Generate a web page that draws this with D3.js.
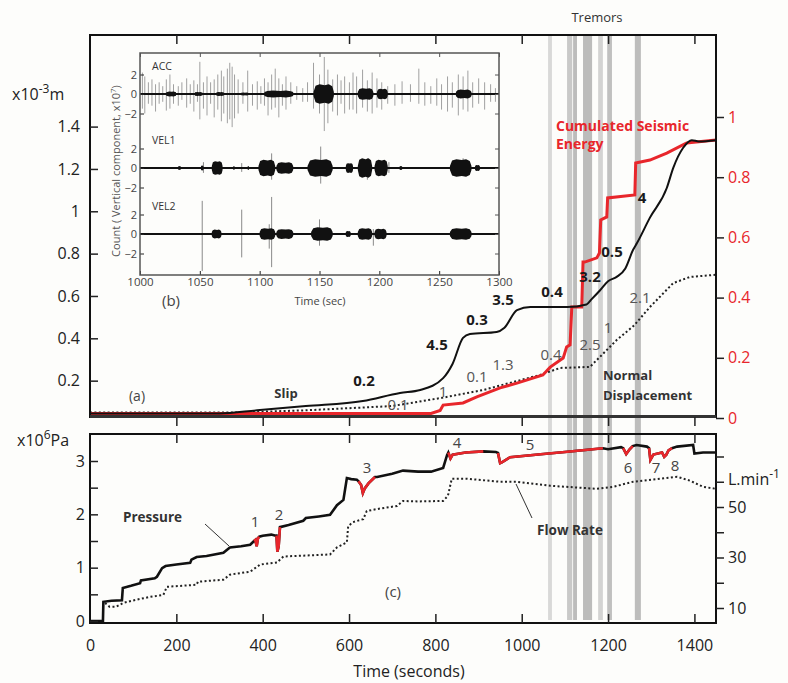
<!DOCTYPE html>
<html><head><meta charset="utf-8">
<script src="https://cdn.jsdelivr.net/npm/d3@7"></script>
<style>body{margin:0;background:#fdfdfb} text{font-family:"Open Sans",sans-serif}</style>
</head><body><svg id="c" width="788" height="683"></svg>
<script>
// ---------------- DATA ----------------
// (a) Slip (x10^-3 m), left axis
const slipT = [0,300,387,500,632,718,765,818,840,864,880,942,960,989,1020,1105,1150,1162,1181,1200,1220,1240,1258,1267,1297,1336,1351,1374,1394,1410,1450];
const slipV = [0.045,0.045,0.06,0.08,0.104,0.142,0.156,0.212,0.28,0.402,0.42,0.43,0.45,0.533,0.548,0.548,0.56,0.585,0.626,0.67,0.69,0.73,0.818,0.85,0.97,1.11,1.205,1.30,1.336,1.33,1.336];
// Normal displacement (x10^-3 m), left axis
const normT = [0,350,500,700,818,911,1042,1089,1158,1181,1220,1260,1297,1351,1390,1450];
const normV = [0.05,0.05,0.06,0.08,0.12,0.156,0.227,0.26,0.265,0.312,0.392,0.46,0.548,0.661,0.69,0.70];
// Cumulated seismic energy (normalised), right axis
const energyT = [0,790,811,818,864,896,950,989,1049,1066,1096,1104,1112,1116,1139,1142,1146,1174,1180,1183,1197,1199,1262,1264,1297,1336,1382,1450];
const energyV = [0.015,0.015,0.025,0.043,0.05,0.07,0.10,0.116,0.143,0.169,0.199,0.236,0.243,0.369,0.369,0.518,0.518,0.532,0.548,0.658,0.668,0.731,0.741,0.847,0.857,0.880,0.914,0.924];
const slipTicks = [0.2,0.4,0.6,0.8,1,1.2,1.4];
const energyTicks = [0,0.2,0.4,0.6,0.8,1];

// (c) Pressure (x10^6 Pa)
const pressT = [0,30,31,50,74,76,95,116,118,150,155,167,175,200,232,235,247,270,309,324,350,371,380,383,386,389,392,400,420,430,432,434,437,440,460,494,500,530,556,572,587,595,605,618,622,628,632,636,645,660,665,700,725,760,790,818,827,830,835,840,870,911,940,945,950,955,973,1050,1100,1188,1200,1230,1235,1242,1250,1257,1266,1290,1295,1298,1305,1325,1330,1335,1340,1348,1360,1397,1400,1420,1450];
const pressV = [0,0,0.36,0.38,0.39,0.62,0.66,0.71,0.76,0.8,0.83,0.99,1.03,1.06,1.09,1.15,1.2,1.22,1.28,1.38,1.4,1.43,1.5,1.52,1.40,1.55,1.58,1.6,1.62,1.6,1.6,1.30,1.40,1.76,1.8,1.88,1.93,1.96,1.99,2.17,2.27,2.68,2.66,2.65,2.62,2.55,2.40,2.48,2.58,2.7,2.70,2.76,2.82,2.80,2.80,2.87,3.11,3.16,3.05,3.12,3.16,3.18,3.17,3.15,2.96,2.98,3.07,3.13,3.17,3.24,3.22,3.26,3.24,3.13,3.22,3.28,3.30,3.27,3.24,3.02,3.12,3.16,3.08,3.12,3.20,3.24,3.27,3.30,3.14,3.16,3.16];
// red (seismic) intervals on the pressure curve [start,end] seconds
const redStart = [380,432,622,830,945,1235,1295];
const redEnd   = [392,440,660,911,1188,1257,1348];
const redNumbers = ["1","2","3","4","5","6","7","8"];
// Flow rate (L/min), right axis
const flowT = [35,45,60,77,100,139,170,178,247,250,309,324,371,394,433,448,556,572,595,598,609,633,641,665,711,725,760,818,829,838,873,950,989,1066,1174,1212,1258,1320,1360,1390,1420,1450];
const flowV = [12,10.5,10.5,12,13,14.4,15.2,18.4,19.2,20.4,21.2,23.2,24.4,27.2,28,30.4,31.2,34,36,42.4,44,45.2,48.4,49.2,50.4,52.4,52.2,52.4,54.4,61.2,61.2,60,60,58.4,57.2,58,60,61.2,62,60.4,58,57.2];
const timeTicks = [200,400,600,800,1000,1200,1400];
const pressTicks = [0,0.5,1,1.5,2,2.5,3];
const flowTicks = [10,20,30,40,50,60,70];

// Tremor bands (seconds) and shade
const tremorStart = [1061,1105,1119,1142,1177,1198,1262];
const tremorEnd   = [1070,1117,1128,1163,1188,1209,1276];
const tremorShade = ["#cfcfcf","#bcbcbc","#ababab","#ababab","#c8c8c8","#b0b0b0","#adadad"];

// (b) inset seismograms: spikes [t, up, down] and bursts [t0, t1, amplitude] in counts x10^7
const accSpikes = [[1002,2.2,1.5],[1004,1.8,2.0],[1007,1.2,1.0],[1010,1.5,1.2],[1013,1.0,1.8],[1016,1.2,1.0],[1019,0.8,0.8],[1022,1.5,1.7],[1025,2.0,1.5],[1028,1.0,1.0],[1032,0.8,1.2],[1035,1.2,0.6],[1039,1.6,1.4],[1042,1.0,1.0],[1045,1.4,1.8],[1048,1.0,0.8],[1050,3.3,2.6],[1053,1.2,1.5],[1056,1.8,2.2],[1059,1.2,1.0],[1062,1.5,2.4],[1065,2.0,1.6],[1068,2.4,2.8],[1070,1.8,2.0],[1073,2.6,3.0],[1075,3.2,2.6],[1077,2.8,3.4],[1079,2.0,2.5],[1082,1.5,2.0],[1086,1.2,1.0],[1090,2.4,1.8],[1094,1.0,1.2],[1098,1.3,1.6],[1101,0.8,1.0],[1104,1.6,1.2],[1107,1.2,2.2],[1110,2.0,1.6],[1113,2.6,1.4],[1116,1.6,2.4],[1119,1.0,1.2],[1122,1.8,1.6],[1126,1.2,1.0],[1131,0.8,0.6],[1136,0.6,0.8],[1140,1.2,0.8],[1145,3.2,1.5],[1150,2.0,2.0],[1154,3.8,3.8],[1157,2.5,3.0],[1161,1.5,1.8],[1165,2.0,2.2],[1168,1.4,1.0],[1171,1.8,2.0],[1175,1.2,1.6],[1178,2.2,1.6],[1181,1.8,2.0],[1186,2.5,1.4],[1190,1.4,1.8],[1194,2.2,2.0],[1198,1.6,1.4],[1202,1.2,1.6],[1207,0.8,1.0],[1213,1.0,1.2],[1219,1.3,1.0],[1226,1.0,0.8],[1233,2.6,1.0],[1238,1.2,1.2],[1243,0.8,1.0],[1248,1.6,1.2],[1252,1.0,1.6],[1257,1.8,1.8],[1261,1.2,1.4],[1266,2.0,2.2],[1270,1.8,1.6],[1274,2.4,1.8],[1278,1.2,1.4],[1283,1.6,1.0],[1288,1.2,1.6],[1293,1.0,0.8],[1297,0.6,0.8]];
const accBursts = [[1022,1030,0.25],[1046,1052,0.2],[1064,1070,0.2],[1085,1090,0.15],[1104,1128,0.35],[1145,1162,1.0],[1182,1195,0.6],[1198,1207,0.55],[1264,1277,0.45]];
const vel1Spikes = [[1053,0.6,0.5],[1085,0.5,0.4],[1110,1.5,1.2],[1151,2.2,1.6],[1190,1.0,1.2],[1208,0.6,0.5],[1270,1.0,0.8]];
const vel1Bursts = [[1032,1034,0.2],[1051,1053,0.25],[1060,1069,0.7],[1078,1079,0.2],[1090,1091,0.2],[1099,1113,0.85],[1114,1128,0.6],[1140,1161,0.9],[1172,1178,0.5],[1182,1194,1.0],[1196,1207,0.85],[1217,1219,0.2],[1259,1277,0.9],[1280,1284,0.3]];
const vel2Spikes = [[1052,3.4,3.8],[1085,2.5,2.4],[1108,1.0,1.5],[1110,3.8,3.4],[1150,1.5,1.2],[1195,0.5,1.2]];
const vel2Bursts = [[1060,1068,0.45],[1100,1113,0.6],[1114,1128,0.5],[1143,1161,0.7],[1172,1176,0.3],[1182,1194,0.6],[1196,1206,0.55],[1259,1277,0.6]];
const insetTicks = [1000,1050,1100,1150,1200,1250,1300];
const traceTicks = [-2,0,2];

// ---------------- DRAW ----------------
const RED = "#e8262b";
const svg = d3.select("#c");
svg.append("rect").attr("width",788).attr("height",683).attr("fill","#fdfdfb");

const L = 90, R = 716, T1 = 35, B1 = 417, T2 = 434, B2 = 623;
const x = d3.scaleLinear().domain([0,1450]).range([L,R]);
const ySlip = d3.scaleLinear().domain([0,1.4]).range([423,126.6]);
const yEn = d3.scaleLinear().domain([0,1]).range([418,117]);
const yPr = d3.scaleLinear().domain([0,3]).range([621,461]);
const yFl = d3.scaleLinear().domain([10,50]).range([608,507]);

const defs = svg.append("defs");
defs.append("clipPath").attr("id","c1").append("rect").attr("x",L).attr("y",T1).attr("width",R-L).attr("height",B1-T1);
defs.append("clipPath").attr("id","c2").append("rect").attr("x",L).attr("y",T2).attr("width",R-L).attr("height",B2-T2);

// tremor bands
svg.append("g").selectAll("rect").data(d3.range(tremorStart.length)).join("rect")
  .attr("x", i => x(tremorStart[i])).attr("width", i => x(tremorEnd[i]) - x(tremorStart[i]))
  .attr("y", T1).attr("height", 620 - T1).attr("fill", i => tremorShade[i]).attr("opacity",0.8);

svg.append("text").attr("x",597).attr("y",22).attr("text-anchor","middle").attr("font-size",13).attr("fill","#333").text("Tremors");

// ---- top panel curves
const g1 = svg.append("g").attr("clip-path","url(#c1)");
g1.append("path").datum(d3.zip(normT,normV)).attr("fill","none").attr("stroke","#222").attr("stroke-width",2).attr("stroke-dasharray","2,2.4")
  .attr("d", d3.line().x(d=>x(d[0])).y(d=>ySlip(d[1])));
g1.append("path").datum(d3.zip(energyT,energyV)).attr("fill","none").attr("stroke",RED).attr("stroke-width",3)
  .attr("d", d3.line().x(d=>x(d[0])).y(d=>yEn(d[1])));
g1.append("path").datum(d3.zip(slipT,slipV)).attr("fill","none").attr("stroke","#111").attr("stroke-width",2)
  .attr("d", d3.line().x(d=>x(d[0])).y(d=>ySlip(d[1])).curve(d3.curveMonotoneX));

// ---- bottom panel curves
const g2 = svg.append("g").attr("clip-path","url(#c2)");
g2.append("path").datum(d3.zip(flowT,flowV)).attr("fill","none").attr("stroke","#222").attr("stroke-width",2).attr("stroke-dasharray","2,2.4")
  .attr("d", d3.line().x(d=>x(d[0])).y(d=>yFl(d[1])));
const pLine = d3.line().x(d=>x(d[0])).y(d=>yPr(d[1]));
const press = d3.zip(pressT,pressV);
g2.append("path").datum(press).attr("fill","none").attr("stroke","#111").attr("stroke-width",2.6).attr("d", pLine);
redStart.forEach((a,i) => {
  g2.append("path").datum(press.filter(d => d[0] >= a && d[0] <= redEnd[i]))
    .attr("fill","none").attr("stroke",RED).attr("stroke-width",2.6).attr("d", pLine);
});

// ---- frames
svg.append("rect").attr("x",L).attr("y",T1).attr("width",R-L).attr("height",B1-T1).attr("fill","none").attr("stroke","#111").attr("stroke-width",2);
svg.append("line").attr("x1",L).attr("x2",R).attr("y1",B1-0.5).attr("y2",B1-0.5).attr("stroke","#333").attr("stroke-width",3);
svg.append("rect").attr("x",L).attr("y",T2).attr("width",R-L).attr("height",B2-T2).attr("fill","none").attr("stroke","#111").attr("stroke-width",2);

// ---- axes
function styleAxis(g, color, fs){
  g.select(".domain").remove();
  g.selectAll(".tick line").attr("stroke","#222").attr("stroke-width",1.5);
  g.selectAll(".tick text").attr("fill",color||"#222").attr("font-size",fs||16).attr("font-family","'Open Sans',sans-serif");
}
const fmt = d => String(+d.toFixed(2));
styleAxis(svg.append("g").attr("transform",`translate(${L},0)`).call(d3.axisLeft(ySlip).tickValues(slipTicks).tickSize(-8).tickPadding(10).tickFormat(fmt)));
styleAxis(svg.append("g").attr("transform",`translate(${R},0)`).call(d3.axisRight(yEn).tickValues(energyTicks).tickSize(8).tickPadding(4).tickFormat(fmt)), RED);
styleAxis(svg.append("g").attr("transform",`translate(0,${T1})`).call(d3.axisTop(x).tickValues(timeTicks).tickSize(-9).tickFormat("")));
styleAxis(svg.append("g").attr("transform",`translate(0,${B1})`).call(d3.axisBottom(x).tickValues(timeTicks).tickSize(9).tickFormat("")));
styleAxis(svg.append("g").attr("transform",`translate(0,${T2})`).call(d3.axisTop(x).tickValues(timeTicks).tickSize(-9).tickFormat("")));
const xb = svg.append("g").attr("transform",`translate(0,${B2})`).call(d3.axisBottom(x).tickValues([0].concat(timeTicks)).tickSize(-9).tickPadding(17).tickFormat(d3.format("d")));
styleAxis(xb);
xb.selectAll(".tick").filter(d => d === 0).select("line").remove();
styleAxis(svg.append("g").attr("transform",`translate(${L},0)`).call(d3.axisLeft(yPr).tickValues(pressTicks).tickSize(-8).tickPadding(5).tickFormat(d => Number.isInteger(d) ? d : "")));
styleAxis(svg.append("g").attr("transform",`translate(${R},0)`).call(d3.axisRight(yFl).tickValues(flowTicks).tickSize(8).tickPadding(4).tickFormat(d => [10,30,50].includes(d) ? d : "")));

// axis titles
function supText(xp, yp, parts, fs, anchor){
  const t = svg.append("text").attr("x",xp).attr("y",yp).attr("font-size",fs).attr("fill","#222").attr("text-anchor",anchor||"start");
  parts.forEach(p => {
    if (p.sup) t.append("tspan").attr("dy",-7).attr("font-size",fs*0.75).text(p.s);
    else t.append("tspan").attr("dy", p.after ? 7 : 0).text(p.s);
  });
  return t;
}
supText(12,100,[{s:"x10"},{s:"-3",sup:true},{s:"m",after:true}],16);
supText(17,446,[{s:"x10"},{s:"6",sup:true},{s:"Pa",after:true}],16);
supText(728,485,[{s:"L.min"},{s:"-1",sup:true}],16);
svg.append("text").attr("x",409).attr("y",677).attr("text-anchor","middle").attr("font-size",16).attr("fill","#222").text("Time (seconds)");

// ---- annotations top panel
const boldLab = [["0.2",364,386],["4.5",437,350],["0.3",477,325],["3.5",503,305],["0.4",552,297],["3.2",590,282],["0.5",612,257],["4",642,203]];
boldLab.forEach(d => svg.append("text").attr("x",d[1]).attr("y",d[2]).attr("text-anchor","middle").attr("font-size",15).attr("font-weight","bold").attr("fill","#1a1a1a").text(d[0]));
const grayLab = [["0.1",398,410],["1",443,397],["0.1",477,382],["1.3",503,370],["0.4",551,360],["2.5",590,350],["1",608,333],["2.1",640,303]];
grayLab.forEach(d => svg.append("text").attr("x",d[1]).attr("y",d[2]).attr("text-anchor","middle").attr("font-size",15).attr("fill","#555").text(d[0]));
svg.append("text").attr("x",286).attr("y",398).attr("text-anchor","middle").attr("font-size",13).attr("font-weight","bold").attr("fill","#333").text("Slip");
svg.append("text").attr("x",137).attr("y",401).attr("text-anchor","middle").attr("font-size",14).attr("fill","#444").text("(a)");
svg.append("text").attr("x",603).attr("y",380).attr("font-size",13).attr("font-weight","bold").attr("fill","#333").text("Normal");
svg.append("text").attr("x",603).attr("y",400).attr("font-size",13).attr("font-weight","bold").attr("fill","#333").text("Displacement");
svg.append("text").attr("x",556).attr("y",131).attr("font-size",14).attr("font-weight","bold").attr("fill",RED).text("Cumulated Seismic");
svg.append("text").attr("x",556).attr("y",149).attr("font-size",14).attr("font-weight","bold").attr("fill",RED).text("Energy");

// ---- annotations bottom panel
const numPos = [[255,527],[279,520],[367,473],[457,448],[530,450],[628,473],[656,473],[675,471]];
numPos.forEach((p,i) => svg.append("text").attr("x",p[0]).attr("y",p[1]).attr("text-anchor","middle").attr("font-size",15).attr("fill","#444").text(redNumbers[i]));
svg.append("text").attr("x",123).attr("y",522).attr("font-size",13.5).attr("font-weight","bold").attr("fill","#333").text("Pressure");
svg.append("line").attr("x1",205).attr("y1",524).attr("x2",229).attr("y2",546).attr("stroke","#333").attr("stroke-width",1);
svg.append("text").attr("x",537).attr("y",535).attr("font-size",13.5).attr("font-weight","bold").attr("fill","#333").text("Flow Rate");
svg.append("line").attr("x1",516).attr("y1",484).attr("x2",532).attr("y2",518).attr("stroke","#333").attr("stroke-width",1);
svg.append("text").attr("x",393).attr("y",597).attr("text-anchor","middle").attr("font-size",15).attr("fill","#444").text("(c)");

// ---- inset (b)
const IL = 140, IR = 499, IT = 53, IB = 275;
const xi = d3.scaleLinear().domain([1000,1300]).range([IL,IR]);
svg.append("rect").attr("x",IL).attr("y",IT).attr("width",IR-IL).attr("height",IB-IT).attr("fill","#fdfdfb");
defs.append("clipPath").attr("id","ci").append("rect").attr("x",IL).attr("y",IT).attr("width",IR-IL).attr("height",IB-IT);
const gi = svg.append("g").attr("clip-path","url(#ci)");
const traces = [
  {name:"ACC", zero:94, spikes:accSpikes, bursts:accBursts, sc:"#a0a0a0"},
  {name:"VEL1", zero:168, spikes:vel1Spikes, bursts:vel1Bursts, sc:"#8a8a8a"},
  {name:"VEL2", zero:234, spikes:vel2Spikes, bursts:vel2Bursts, sc:"#8a8a8a"}];
traces.forEach(tr => {
  const y = d3.scaleLinear().domain([-2,2]).range([tr.zero+19.5, tr.zero-19.5]);
  gi.append("g").selectAll("line").data(tr.spikes).join("line")
    .attr("x1", d=>xi(d[0])).attr("x2", d=>xi(d[0])).attr("y1", d=>y(d[1])).attr("y2", d=>y(-d[2]))
    .attr("stroke", tr.sc).attr("stroke-width",1);
  const area = d3.area().x(d=>xi(d[0])).y0(d=>y(-d[1])).y1(d=>y(d[1]));
  tr.bursts.forEach(b => {
    const w = b[1]-b[0];
    const pts = [[b[0],0.2],[b[0]+w*0.1,b[2]*0.85],[b[0]+w*0.3,b[2]],[b[0]+w*0.55,b[2]*0.9],[b[0]+w*0.75,b[2]],[b[1]-w*0.08,b[2]*0.8],[b[1],0.2]];
    gi.append("path").datum(pts).attr("d", area).attr("fill","#111");
  });
  gi.append("line").attr("x1",IL).attr("x2",IR).attr("y1",y(0)).attr("y2",y(0)).attr("stroke","#111").attr("stroke-width",2);
  const ax = svg.append("g").attr("transform",`translate(${IL},0)`).call(d3.axisLeft(y).tickValues(traceTicks).tickSize(-4).tickPadding(3).tickFormat(d3.format("d")));
  styleAxis(ax, "#444", 11);
  ax.selectAll(".tick line").attr("stroke-width",1);
  const axr = svg.append("g").attr("transform",`translate(${IR},0)`).call(d3.axisRight(y).tickValues(traceTicks).tickSize(-4).tickFormat(""));
  styleAxis(axr); axr.selectAll(".tick line").attr("stroke-width",1).attr("stroke","#555");
  svg.append("text").attr("x",152).attr("y",tr.zero - 24).attr("font-size",10.5).attr("fill","#333").text(tr.name);
});
const axb = svg.append("g").attr("transform",`translate(0,${IB})`).call(d3.axisBottom(xi).tickValues(insetTicks).tickSize(-4).tickPadding(3).tickFormat(d3.format("d")));
styleAxis(axb, "#444", 11.5); axb.selectAll(".tick line").attr("stroke-width",1);
const axt = svg.append("g").attr("transform",`translate(0,${IT})`).call(d3.axisTop(xi).tickValues(insetTicks).tickSize(-4).tickFormat(""));
styleAxis(axt); axt.selectAll(".tick line").attr("stroke-width",1).attr("stroke","#555");
svg.append("rect").attr("x",IL).attr("y",IT).attr("width",IR-IL).attr("height",IB-IT).attr("fill","none").attr("stroke","#555").attr("stroke-width",1.5);
const yl = svg.append("text").attr("transform","translate(120,171) rotate(-90)").attr("text-anchor","middle").attr("font-size",11).attr("fill","#555");
yl.append("tspan").text("Count ( Vertical component, x10");
yl.append("tspan").attr("dy",-4).attr("font-size",8).text("7");
yl.append("tspan").attr("dy",4).text(")");
svg.append("text").attr("x",320).attr("y",305).attr("text-anchor","middle").attr("font-size",11).attr("fill","#444").text("Time (sec)");
svg.append("text").attr("x",171).attr("y",306).attr("text-anchor","middle").attr("font-size",15).attr("fill","#444").text("(b)");
</script></body></html>
